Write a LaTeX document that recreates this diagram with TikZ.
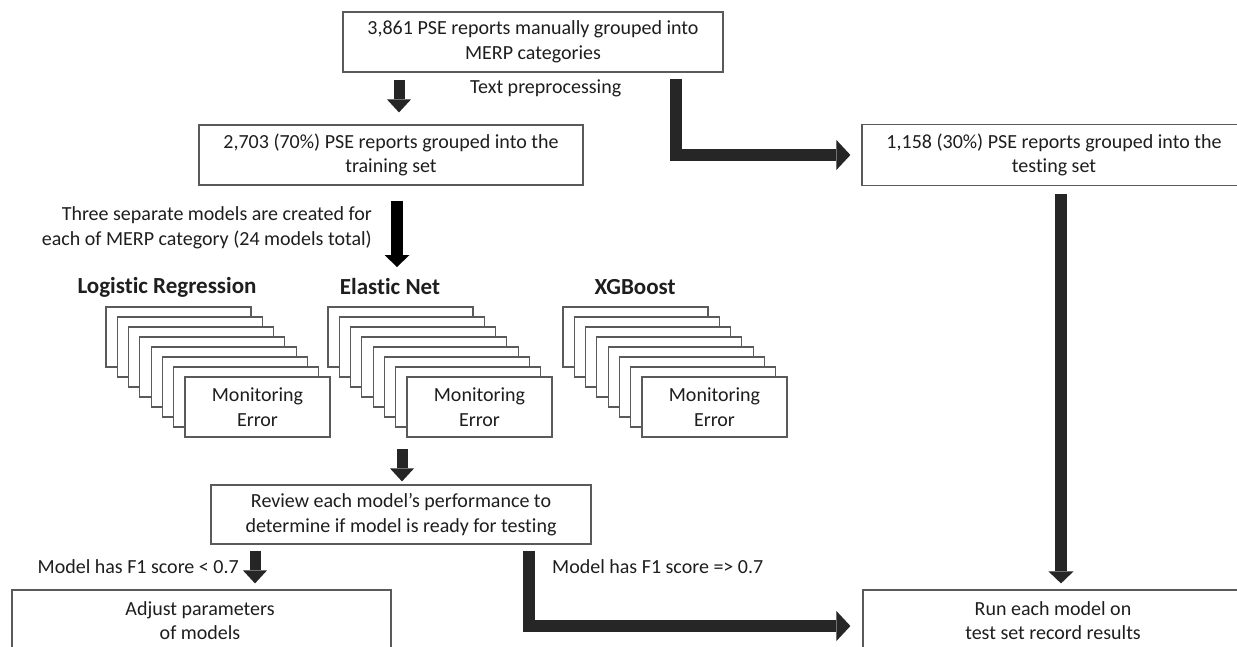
\documentclass[tikz,border=0pt]{standalone}
\usepackage{fontspec}
\setmainfont{Carlito}[Ligatures=NoCommon]
\usetikzlibrary{arrows.meta,calc}
\definecolor{boxline}{HTML}{5A5A5A}
\definecolor{arrowc}{HTML}{262626}
\definecolor{txt}{HTML}{1E1E1E}
\begin{document}
\begin{tikzpicture}[x=1pt,y=-1pt,
  every node/.style={font=\fontsize{20}{24.5}\selectfont, text=txt},
  box/.style={draw=boxline, line width=1.2pt, fill=white, inner sep=0pt, align=center},
  stackbox/.style={box, minimum width=145pt, minimum height=60pt},
  ttl/.style={font=\fontsize{23}{27}\selectfont\bfseries, inner sep=0pt},
  lbl/.style={inner sep=0pt},
  arrS/.style={draw=arrowc, line width=11pt, -{Triangle[width=24pt,length=13pt,line width=0pt]}},
  arrL/.style={draw=arrowc, line width=12pt, line join=miter, -{Triangle[width=30pt,length=14pt,line width=0pt]}},
  arrM/.style={draw=arrowc, line width=12pt, -{Triangle[width=25pt,length=12pt,line width=0pt]}},
  arrB/.style={draw=black, line width=12pt, -{Triangle[width=25pt,length=12pt,line width=0pt]}}
]
\fill[white] (0,0) rectangle (1237,646);
\useasboundingbox (0,0) rectangle (1237,646);

% main boxes
\node[box, minimum width=380pt, minimum height=60pt] (src) at (533,42)
  {3,861 PSE reports manually grouped into\\MERP categories};
\node[box, minimum width=384pt, minimum height=60pt] (train) at (391,155)
  {2,703 (70\%) PSE reports grouped into the\\training set};
\node[box, minimum width=384pt, minimum height=61pt] (test) at (1054,155)
  {1,158 (30\%) PSE reports grouped into the\\testing set};
\node[box, minimum width=380pt, minimum height=59pt] (review) at (401,514.5)
  {Review each model’s performance to\\determine if model is ready for testing};
\node[box, minimum width=379pt, minimum height=72pt] (adjust) at (201.5,626) {};
\node[box, minimum width=380pt, minimum height=72pt] (run) at (1053,626) {};
\node[lbl, align=center] (adjtxt) at (200,620.5) {Adjust parameters\\of models};
\node[lbl, align=center] (runtxt) at (1053,620.5) {Run each model on\\test set record results};

% labels
\node[lbl, anchor=west] (pre) at (470,88) {Text preprocessing};
\node[lbl, anchor=east, align=right] (three) at (372,228)
  {Three separate models are created for\\each of MERP category (24 models total)};
\node[lbl, anchor=east] (lt) at (239,567) {Model has F1 score < 0.7};
\node[lbl, anchor=west] (ge) at (552,567) {Model has F1 score => 0.7};

% titles
\node[ttl] (tlr) at (167,287) {Logistic Regression};
\node[ttl] (ten) at (390,287) {Elastic Net};
\node[ttl] (txg) at (635,287) {XGBoost};

% stacks
\foreach \i in {0,...,6} {
  \node[stackbox] (lr\i) at ({178.5+\i*11.29},{337+\i*10}) {};
}
\node[stackbox] (lr7) at (257.5,407) {Monitoring\\Error};
\foreach \i in {0,...,6} {
  \node[stackbox] (en\i) at ({400.5+\i*11.29},{337+\i*10}) {};
}
\node[stackbox] (en7) at (479.5,407) {Monitoring\\Error};
\foreach \i in {0,...,6} {
  \node[stackbox] (xg\i) at ({635.5+\i*11.29},{337+\i*10}) {};
}
\node[stackbox] (xg7) at (714.5,407) {Monitoring\\Error};

% connector x references
\coordinate (a1) at (399,0);
\coordinate (c1) at (676,0);
\coordinate (a2) at (397,0);
\coordinate (m2) at (397,267);
\coordinate (a4) at (402,0);
\coordinate (a5) at (255,0);
\coordinate (c2) at (529,0);
\coordinate (c3) at (1061,0);

% connectors
\draw[arrS] ([yshift=-7pt]src.south -| a1) -- ([yshift=12pt]train.north -| a1);
\draw[arrL, shorten >=11pt] ([yshift=-6pt]src.south -| c1) |- (test.west);
\draw[arrB] ([yshift=-15pt]train.south -| a2) -- (m2);
\draw[arrS] ([yshift=-11pt]en7.south -| a4) -- ([yshift=3pt]review.north -| a4);
\draw[arrS] ([yshift=-6pt]review.south -| a5) -- ([yshift=6pt]adjust.north -| a5);
\draw[arrL, shorten >=12pt] ([yshift=-6pt]review.south -| c2) |- (run.west);
\draw[arrM] ([yshift=-8pt]test.south -| c3) -- ([yshift=6pt]run.north -| c3);
\end{tikzpicture}
\end{document}
